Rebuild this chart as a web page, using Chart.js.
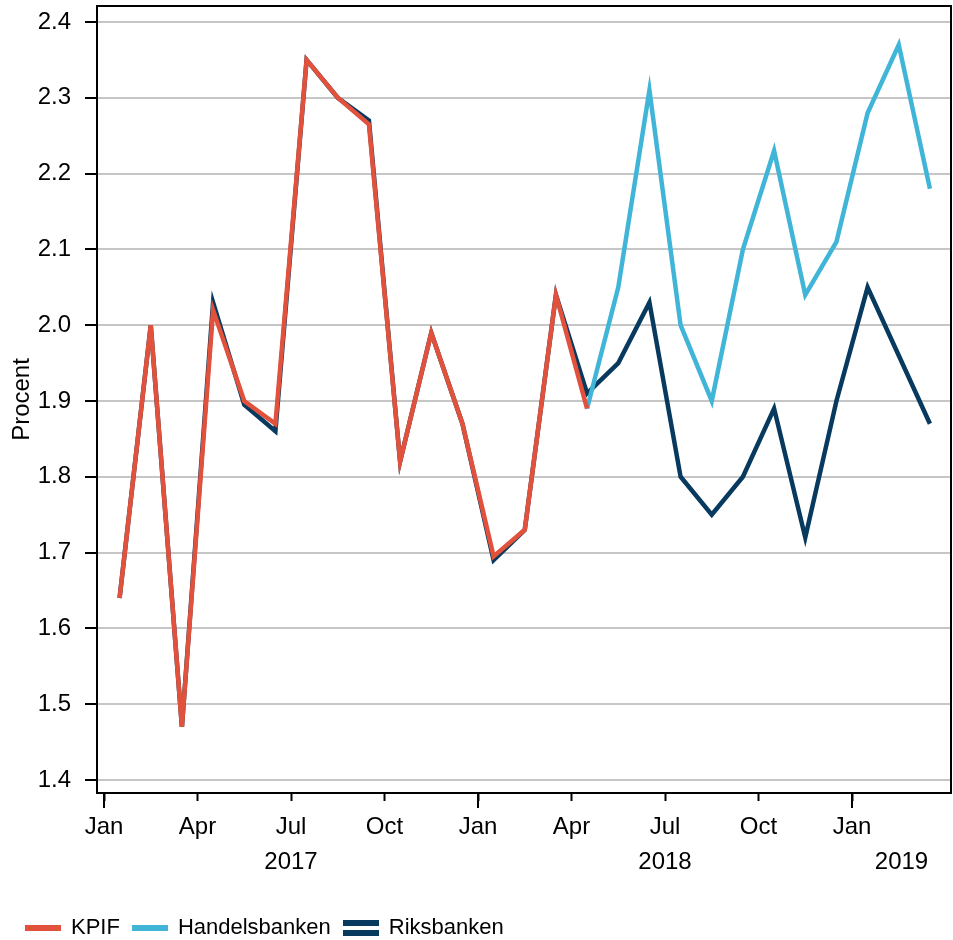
<!DOCTYPE html>
<html>
<head>
<meta charset="utf-8">
<script src="https://cdn.jsdelivr.net/npm/chart.js@4.4.1/dist/chart.umd.min.js"></script>
<style>
  html, body { margin: 0; padding: 0; background: #fff; overflow: hidden; }
  #wrap { width: 953px; height: 940px; overflow: hidden; }
</style>
</head>
<body>
<div id="wrap"><canvas id="chart" width="953" height="949"></canvas></div>
<script>
// one entry per month, Jan 2017 .. Mar 2019
const months = [
  '2017-01', '2017-02', '2017-03', '2017-04', '2017-05', '2017-06',
  '2017-07', '2017-08', '2017-09', '2017-10', '2017-11', '2017-12',
  '2018-01', '2018-02', '2018-03', '2018-04', '2018-05', '2018-06',
  '2018-07', '2018-08', '2018-09', '2018-10', '2018-11', '2018-12',
  '2019-01', '2019-02', '2019-03',
];

const kpif = [
  1.64, 2.00, 1.47, 2.02, 1.90, 1.87, 2.35, 2.30, 2.265, 1.82, 1.99, 1.87,
  1.695, 1.73, 2.04, 1.89, null, null, null, null, null, null, null, null,
  null, null, null,
];
const handelsbanken = [
  null, null, null, null, null, null, null, null, null, null, null, null,
  null, null, null, 1.89, 2.05, 2.31, 2.00, 1.90, 2.10, 2.23, 2.04, 2.11,
  2.28, 2.37, 2.18,
];
const riksbanken = [
  1.64, 2.00, 1.47, 2.03, 1.895, 1.86, 2.35, 2.30, 2.27, 1.82, 1.99, 1.87,
  1.69, 1.73, 2.04, 1.91, 1.95, 2.03, 1.80, 1.75, 1.80, 1.89, 1.72, 1.90,
  2.05, 1.96, 1.87,
];

const quarterLabels = ['Jan', 'Apr', 'Jul', 'Oct'];
const yearLabels = ['2017', '2018', '2019'];
const yTicks = [1.4, 1.5, 1.6, 1.7, 1.8, 1.9, 2.0, 2.1, 2.2, 2.3, 2.4];

const RED = '#e1513c';
const LIGHT = '#41b5d8';
const DARK = '#073a5e';

Chart.defaults.font.family = "'Liberation Sans', Arial, sans-serif";
Chart.defaults.color = '#000';

// x: months since Jan 2017, each value plotted mid-month
const toPoints = (values) => values.map((v, i) => ({ x: i + 0.5, y: v }));

const xMin = -0.2246;
const xMax = 27.176;

function swatch(color, double) {
  const c = document.createElement('canvas');
  c.width = 36;
  c.height = 16;
  const g = c.getContext('2d');
  g.fillStyle = color;
  if (double) {
    g.fillRect(0, 0, 36, 6);
    g.fillRect(0, 10, 36, 6);
  } else {
    g.fillRect(0, 5, 36, 6);
  }
  return c;
}
const swatches = [swatch(RED, false), swatch(LIGHT, false), swatch(DARK, true)];

const chartAreaFrame = {
  id: 'chartAreaFrame',
  afterDraw(chart) {
    const { ctx, chartArea } = chart;
    const x = chart.scales.x;
    ctx.save();
    ctx.strokeStyle = '#000';
    ctx.lineWidth = 2;
    ctx.strokeRect(chartArea.left, chartArea.top,
      chartArea.right - chartArea.left, chartArea.bottom - chartArea.top);
    // longer tick marks at the turn of each year
    x.ticks.filter((t) => t.value % 12 === 0).forEach((t) => {
      const px = Math.round(x.getPixelForValue(t.value));
      ctx.beginPath();
      ctx.moveTo(px, chartArea.bottom);
      ctx.lineTo(px, chartArea.bottom + 15);
      ctx.stroke();
    });
    ctx.restore();
  },
};

const lineStyle = {
  borderWidth: 4.5,
  pointRadius: 0,
  tension: 0,
  borderJoinStyle: 'miter',
  borderCapStyle: 'butt',
  spanGaps: false,
};

new Chart(document.getElementById('chart'), {
  type: 'line',
  data: {
    datasets: [
      { label: 'KPIF', data: toPoints(kpif), borderColor: RED, backgroundColor: RED, ...lineStyle },
      { label: 'Handelsbanken', data: toPoints(handelsbanken), borderColor: LIGHT, backgroundColor: LIGHT, ...lineStyle },
      { label: 'Riksbanken', data: toPoints(riksbanken), borderColor: DARK, backgroundColor: DARK, ...lineStyle },
    ],
  },
  options: {
    responsive: false,
    animation: false,
    events: [],
    layout: { padding: { left: 13, right: 2, top: 6, bottom: 0 } },
    scales: {
      x: {
        type: 'linear',
        position: 'bottom',
        min: xMin,
        max: xMax,
        afterBuildTicks: (s) => {
          s.ticks = [0, 3, 6, 9, 12, 15, 18, 21, 24].map((v) => ({ value: v }));
        },
        afterFit: (s) => { s.height = 48; s.paddingLeft = 0; s.paddingRight = 0; },
        grid: { drawOnChartArea: false, tickLength: 8, tickColor: '#000', tickWidth: 2 },
        border: { display: false },
        ticks: {
          autoSkip: false,
          maxRotation: 0,
          padding: 12,
          font: { size: 24 },
          callback: (v) => quarterLabels[(v / 3) % 4],
        },
      },
      x2: {
        type: 'linear',
        position: 'bottom',
        min: xMin,
        max: xMax,
        afterBuildTicks: (s) => {
          s.ticks = yearLabels.map((y, i) => {
            const start = i * 12;
            const end = Math.min(start + 12, xMax);
            return { value: (start + end) / 2 };
          });
        },
        afterFit: (s) => { s.height = 63; s.paddingLeft = 0; s.paddingRight = 0; },
        grid: { display: false, drawTicks: false },
        border: { display: false },
        ticks: {
          autoSkip: false,
          maxRotation: 0,
          padding: 7,
          font: { size: 24 },
          callback: (v) => yearLabels[Math.floor(v / 12)],
        },
      },
      y: {
        min: 1.3828,
        max: 2.4211,
        afterBuildTicks: (s) => { s.ticks = yTicks.map((v) => ({ value: v })); },
        afterFit: (s) => { s.width = 84; s.paddingTop = 0; s.paddingBottom = 0; },
        grid: {
          color: '#c6c6c6',
          lineWidth: 2,
          tickLength: 12,
          tickColor: '#000',
          tickWidth: 2,
        },
        border: { display: false },
        ticks: {
          padding: 14,
          font: { size: 24 },
          callback: (v) => v.toFixed(1),
        },
        title: {
          display: true,
          text: 'Procent',
          font: { size: 24, lineHeight: 0.75 },
          padding: { top: 0, bottom: 0 },
        },
      },
    },
    plugins: {
      legend: {
        position: 'bottom',
        align: 'start',
        labels: {
          usePointStyle: true,
          pointStyleWidth: 34,
          padding: 13,
          color: '#000',
          font: { size: 22 },
          generateLabels: (chart) => chart.data.datasets.map((ds, i) => ({
            text: ds.label,
            datasetIndex: i,
            pointStyle: swatches[i],
            fillStyle: ds.borderColor,
            strokeStyle: ds.borderColor,
            lineWidth: 0,
            hidden: false,
          })),
        },
      },
      tooltip: { enabled: false },
    },
  },
  plugins: [chartAreaFrame],
});
</script>
</body>
</html>
